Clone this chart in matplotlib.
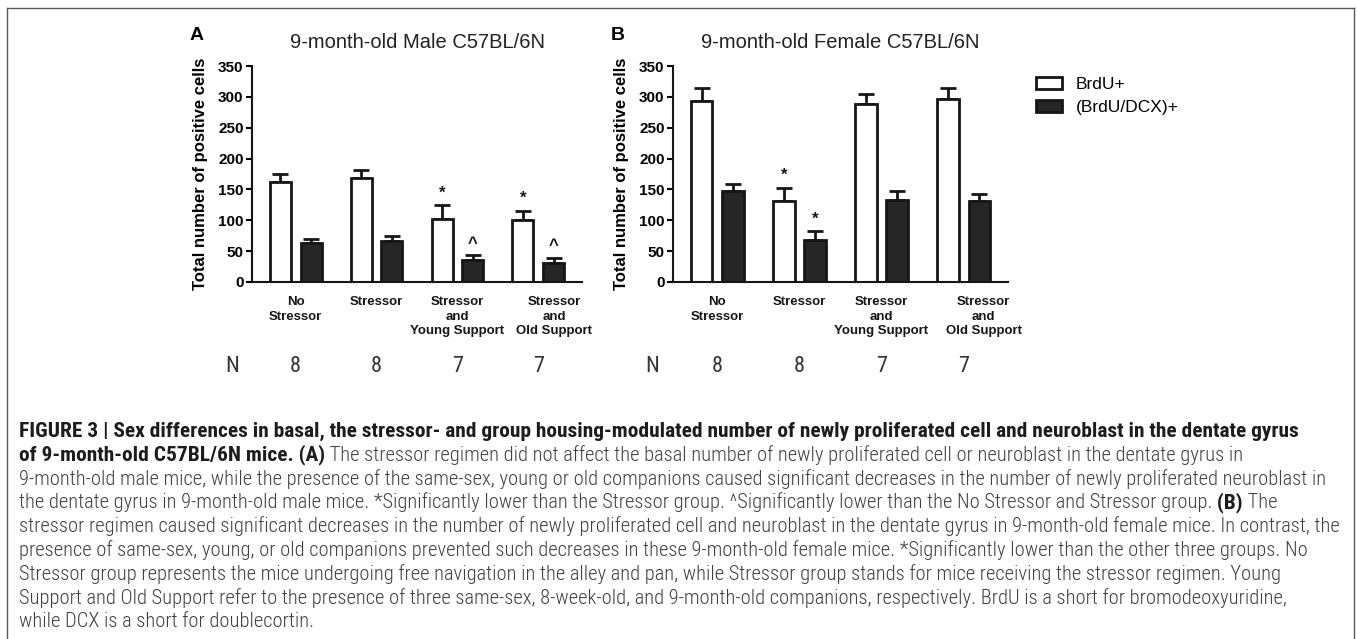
import matplotlib
matplotlib.use("Agg")
import matplotlib.pyplot as plt
import matplotlib.transforms as mtransforms
from matplotlib import font_manager
from matplotlib.lines import Line2D
from matplotlib.patches import Patch
import numpy as np

# ---- data ----
groups = ["No\nStressor", "Stressor", "Stressor\nand\nYoung Support", "Stressor\nand\nOld Support"]
n_mice = [8, 8, 7, 7]

male_brdu = [162, 168, 102, 101]
male_brdu_sem = [13, 14, 22, 14]
male_dcx = [64, 67, 35, 31]
male_dcx_sem = [6, 7, 8, 8]
male_brdu_marks = ["", "", "*", "*"]
male_dcx_marks = ["", "", "^", "^"]

female_brdu = [293, 131, 288, 296]
female_brdu_sem = [21, 21, 17, 18]
female_dcx = [147, 68, 133, 132]
female_dcx_sem = [11, 14, 14, 11]
female_brdu_marks = ["", "*", "", ""]
female_dcx_marks = ["", "*", "", ""]

caption_lines = [
    [("FIGURE 3 | Sex differences in basal, the stressor- and group housing-modulated number of newly proliferated cell and neuroblast in the dentate gyrus", True)],
    [("of 9-month-old C57BL/6N mice. (A)", True),
     (" The stressor regimen did not affect the basal number of newly proliferated cell or neuroblast in the dentate gyrus in", False)],
    [("9-month-old male mice, while the presence of the same-sex, young or old companions caused significant decreases in the number of newly proliferated neuroblast in", False)],
    [("the dentate gyrus in 9-month-old male mice. *Significantly lower than the Stressor group. ^Significantly lower than the No Stressor and Stressor group.", False),
     (" (B)", True), (" The", False)],
    [("stressor regimen caused significant decreases in the number of newly proliferated cell and neuroblast in the dentate gyrus in 9-month-old female mice. In contrast, the", False)],
    [("presence of same-sex, young, or old companions prevented such decreases in these 9-month-old female mice. *Significantly lower than the other three groups. No", False)],
    [("Stressor group represents the mice undergoing free navigation in the alley and pan, while Stressor group stands for mice receiving the stressor regimen. Young", False)],
    [("Support and Old Support refer to the presence of three same-sex, 8-week-old, and 9-month-old companions, respectively. BrdU is a short for bromodeoxyuridine,", False)],
    [("while DCX is a short for doublecortin.", False)],
]

W, H = 1357, 639
fig = plt.figure(figsize=(W / 100, H / 100), dpi=100)
fig.patch.set_facecolor("white")


def fx(px):
    return px / W


def fy(py):
    return 1 - py / H


names = {f.name for f in font_manager.fontManager.ttflist}
MAIN = "Liberation Sans" if "Liberation Sans" in names else "DejaVu Sans"
NARROW = MAIN
for cand in ["Liberation Sans Narrow", "Roboto Condensed", "DejaVu Sans Condensed",
             "Open Sans Condensed"]:
    if cand in names:
        NARROW = cand
        break

INK = "#161616"
x = np.arange(len(groups))
off = 0.19
bw = 0.26


def panel(left_px, right_px, letter, title, brdu, brdu_sem, dcx, dcx_sem, bmarks, dmarks,
          n_px, last_shift):
    ax = fig.add_axes([fx(left_px), fy(282), fx(right_px) - fx(left_px), fy(66) - fy(282)])
    zeros = np.zeros(len(brdu))
    ax.errorbar(x - off, brdu, yerr=[zeros, brdu_sem], fmt="none", ecolor=INK,
                elinewidth=2.0, capsize=5.5, capthick=2.0, zorder=1)
    ax.errorbar(x + off, dcx, yerr=[zeros, dcx_sem], fmt="none", ecolor=INK,
                elinewidth=2.0, capsize=5.5, capthick=2.0, zorder=1)
    ax.bar(x - off, brdu, bw, color="white", edgecolor=INK, linewidth=2.0, zorder=2)
    ax.bar(x + off, dcx, bw, color="#262626", edgecolor=INK, linewidth=2.0, zorder=2)

    for xi, v, e, m in zip(x - off, brdu, brdu_sem, bmarks):
        if m:
            ax.text(xi, v + e + 8, m, ha="center", va="bottom", fontsize=12,
                    fontweight="bold", family=MAIN, color=INK)
    for xi, v, e, m in zip(x + off, dcx, dcx_sem, dmarks):
        if m:
            ax.text(xi, v + e + 8, m, ha="center", va="bottom", fontsize=12,
                    fontweight="bold", family=MAIN, color=INK)

    ax.set_xlim(-0.54, 3.54)
    ax.set_ylim(0, 350)
    ax.set_yticks(range(0, 351, 50))
    ax.set_xticks([])
    # group labels below the axis; the last one sits a little to the right
    lab_tr = ax.get_xaxis_transform() + mtransforms.ScaledTranslation(0, -0.14, fig.dpi_scale_trans)
    for i, (xi, g) in enumerate(zip(x, groups)):
        tr = lab_tr
        if i == len(groups) - 1:
            tr = lab_tr + mtransforms.ScaledTranslation(last_shift / 100, 0, fig.dpi_scale_trans)
        ax.text(xi, 0, g, transform=tr, ha="center", va="top", multialignment="center",
                linespacing=1.3, fontsize=9.5, fontweight="bold", family=MAIN, color=INK)
    ax.tick_params(axis="y", length=4.5, width=1.5, pad=1.5, labelsize=11)
    for lab in ax.get_yticklabels():
        lab.set_fontweight("bold")
        lab.set_family(MAIN)
    for s in ["top", "right"]:
        ax.spines[s].set_visible(False)
    for s in ["left", "bottom"]:
        ax.spines[s].set_linewidth(1.5)
        ax.spines[s].set_color(INK)
    ax.set_ylabel("Total number of positive cells", fontsize=12, fontweight="bold",
                  family=MAIN, labelpad=7)
    ax.set_title(title, fontsize=14.5, family=MAIN, pad=13, color="#222222")
    fig.text(fx(left_px - 55), fy(35), letter, ha="center", va="center",
             fontsize=14, fontweight="bold", family=MAIN)

    # N row
    trans = mtransforms.blended_transform_factory(ax.transData, fig.transFigure)
    fig.text(fx(n_px), fy(366), "N", ha="center", va="center", fontsize=16,
             family=NARROW, color="#333333")
    for xi, n in zip(x, n_mice):
        ax.text(xi, fy(366), str(n), transform=trans, ha="center", va="center",
                fontsize=16, family=NARROW, color="#333333")
    return ax


axA = panel(252, 582, "A", "9-month-old Male C57BL/6N", male_brdu, male_brdu_sem,
            male_dcx, male_dcx_sem, male_brdu_marks, male_dcx_marks, 232, 16)
axB = panel(673, 1008, "B", "9-month-old Female C57BL/6N", female_brdu, female_brdu_sem,
            female_dcx, female_dcx_sem, female_brdu_marks, female_dcx_marks, 652, 20)

handles = [Patch(facecolor="white", edgecolor=INK, linewidth=2.0),
           Patch(facecolor="#262626", edgecolor=INK, linewidth=2.0)]
fig.legend(handles, ["BrdU+", "(BrdU/DCX)+"], loc="upper left",
           bbox_to_anchor=(fx(1027), fy(68)), frameon=False, borderpad=0,
           handlelength=1.5, handleheight=0.7, labelspacing=0.45, handletextpad=0.8,
           prop={"family": MAIN, "size": 12.5})

# frame around the figure panel
for xs, ys in [([7, 7], [8, H]), ([7, 1354], [8, 8]), ([1354, 1354], [8, H])]:
    fig.add_artist(Line2D([fx(v) for v in xs], [fy(v) for v in ys],
                          color="#5a5a5a", linewidth=1.0))

# caption: regular lines sized to fill the width, bold heading a touch larger
renderer = fig.canvas.get_renderer()


def run_style(bold):
    if bold:
        return dict(family=NARROW, fontweight="bold", color="#1c1c1c")
    return dict(family=NARROW, fontweight="light", color="#404040")


def text_width(txt, bold, size=10):
    probe = fig.text(0, 0, txt, fontsize=size, **run_style(bold))
    w = probe.get_window_extent(renderer).width
    probe.remove()
    return w


reg_size = 10 * 1322 / max(text_width(r[0][0], False) for r in caption_lines[2:8])
bold_size = min(10 * 1319 / text_width(caption_lines[0][0][0], True), reg_size * 1.04)

for i, runs in enumerate(caption_lines):
    xpos = 19
    ypos = fy(437 + 23.8 * i)
    for txt, bold in runs:
        t = fig.text(fx(xpos), ypos, txt, ha="left", va="baseline",
                     fontsize=bold_size if bold else reg_size, **run_style(bold))
        xpos += t.get_window_extent(renderer).width

fig.savefig("out.png", dpi=100)
